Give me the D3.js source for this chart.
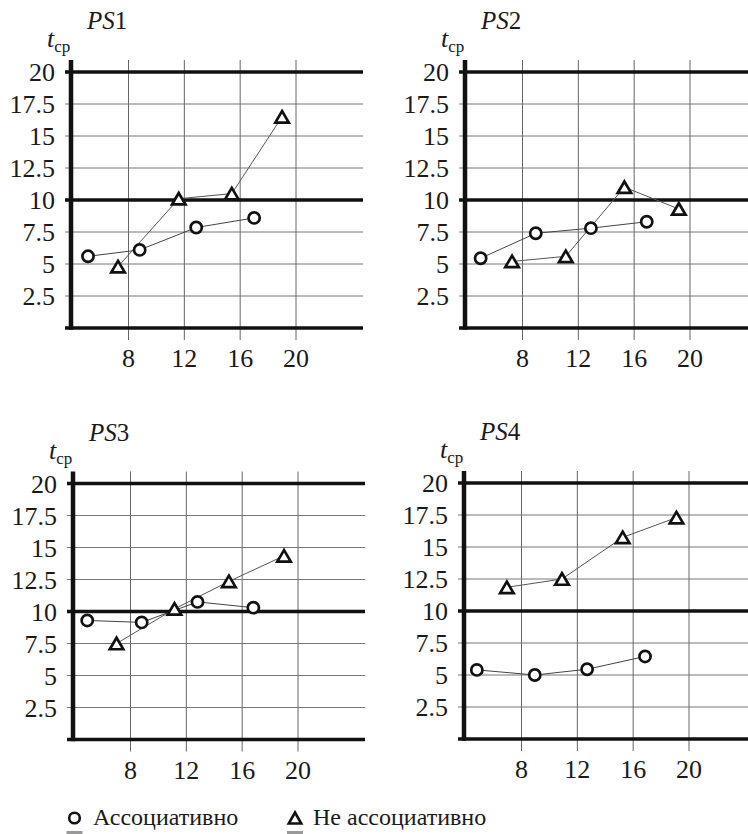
<!DOCTYPE html>
<html>
<head>
<meta charset="utf-8">
<script src="https://cdn.jsdelivr.net/npm/d3@7"></script>
</head>
<body style="margin:0">
<div id="chart"></div>
<script>
// data
const panelNames = ["1", "2", "3", "4"];
const yTicks = [2.5, 5, 7.5, 10, 12.5, 15, 17.5, 20];
const yThick = [0, 10, 20];
const xTicks = [8, 12, 16, 20];

const assocX = [
    [5.1, 8.8, 12.85, 17.0],
    [5.0, 8.95, 12.9, 16.9],
    [4.9, 8.8, 12.8, 16.8],
    [4.8, 8.95, 12.7, 16.85]
];
const assocY = [
    [5.6, 6.1, 7.85, 8.6],
    [5.45, 7.4, 7.8, 8.3],
    [9.3, 9.15, 10.75, 10.3],
    [5.4, 5.0, 5.45, 6.45]
];
const nonAssocX = [
    [7.25, 11.6, 15.4, 19.0],
    [7.25, 11.1, 15.3, 19.2],
    [7.0, 11.15, 15.05, 19.0],
    [6.95, 10.9, 15.25, 19.1]
];
const nonAssocY = [
    [4.8, 10.1, 10.5, 16.5],
    [5.2, 5.6, 11.0, 9.3],
    [7.5, 10.2, 12.35, 14.35],
    [11.85, 12.5, 15.75, 17.3]
];
const legendLabels = ["Ассоциативно", "Не ассоциативно"];

// layout
const W = 748, H = 834;
const panelPos = [[71, 72], [465, 72], [73, 483.5], [464, 483]]; // left axis x, y of 20
const plotW = 292, plotH = 256;

const svg = d3.select("#chart").append("svg")
    .attr("width", W)
    .attr("height", H);

const triPath = function (w, h) {
    return "M0," + (-h / 2) + "L" + (w / 2) + "," + (h / 2) + "L" + (-w / 2) + "," + (h / 2) + "Z";
};

// every text in Times-like serif
const addText = function (sel, size) {
    return sel.append("text")
        .attr("font-family", "Liberation Serif")
        .style("font-family", "'Liberation Serif'")
        .attr("font-size", size)
        .attr("fill", "#1a1a1a");
};

panelNames.forEach((name, p) => {
    var ox = panelPos[p][0], oy = panelPos[p][1];
    var x = d3.scaleLinear().domain([3.88, 24.8]).range([ox, ox + plotW]);
    var y = d3.scaleLinear().domain([0, 20]).range([oy + plotH, oy]);
    var g = svg.append("g");

    //vertical grid
    g.selectAll(".vgrid").data(xTicks).enter()
        .append("line")
        .attr("x1", d => x(d)).attr("x2", d => x(d))
        .attr("y1", oy - 12).attr("y2", y(0) + 12)
        .attr("stroke", "#666").attr("stroke-width", 1);

    //horizontal grid
    g.selectAll(".hgrid").data(yTicks.filter(d => yThick.indexOf(d) < 0)).enter()
        .append("line")
        .attr("x1", ox - 6).attr("x2", ox + plotW)
        .attr("y1", d => y(d)).attr("y2", d => y(d))
        .attr("stroke", "#777").attr("stroke-width", 1);

    g.selectAll(".hthick").data(yThick).enter()
        .append("line")
        .attr("x1", ox - 6).attr("x2", ox + plotW)
        .attr("y1", d => y(d)).attr("y2", d => y(d))
        .attr("stroke", "#111").attr("stroke-width", 3.5);

    //left axis
    g.append("line")
        .attr("x1", ox).attr("x2", ox)
        .attr("y1", oy - 12).attr("y2", y(0) + 1.75)
        .attr("stroke", "#111").attr("stroke-width", 4.5);

    //tick labels
    yTicks.forEach((d) => {
        addText(g, 26)
            .attr("x", ox - 16).attr("y", y(d) + 9)
            .attr("text-anchor", "end")
            .text(d);
    });

    xTicks.forEach((d) => {
        addText(g, 26)
            .attr("x", x(d)).attr("y", y(0) + 39)
            .attr("text-anchor", "middle")
            .text(d);
    });

    //titles
    var title = addText(g, 25)
        .attr("x", ox + 16).attr("y", oy - 43);
    title.append("tspan").attr("font-style", "italic").text("PS");
    title.append("tspan").text(name);

    var tcp = addText(g, 26)
        .attr("x", ox - 24).attr("y", oy - 25);
    tcp.append("tspan").attr("font-style", "italic").text("t");
    tcp.append("tspan").attr("font-size", 17).attr("dy", 5).text("ср");

    //series
    var circPts = assocX[p].map((d, i) => [d, assocY[p][i]]);
    var triPts = nonAssocX[p].map((d, i) => [d, nonAssocY[p][i]]);
    var line = d3.line().x(d => x(d[0])).y(d => y(d[1]));

    g.append("path").datum(triPts)
        .attr("d", line).attr("fill", "none")
        .attr("stroke", "#555").attr("stroke-width", 1);
    g.append("path").datum(circPts)
        .attr("d", line).attr("fill", "none")
        .attr("stroke", "#444").attr("stroke-width", 1);

    g.selectAll(".circ").data(circPts).enter()
        .append("circle")
        .attr("cx", d => x(d[0])).attr("cy", d => y(d[1]))
        .attr("r", 5.6)
        .attr("fill", "#fff").attr("stroke", "#111").attr("stroke-width", 2.7);

    g.selectAll(".tri").data(triPts).enter()
        .append("path")
        .attr("transform", d => "translate(" + x(d[0]) + "," + y(d[1]) + ")")
        .attr("d", triPath(13.5, 11.5))
        .attr("fill", "#fff").attr("stroke", "#111").attr("stroke-width", 2.7)
        .attr("stroke-linejoin", "miter");
});

//legend
var leg = svg.append("g");
leg.append("circle")
    .attr("cx", 74.5).attr("cy", 818).attr("r", 5.3)
    .attr("fill", "#fff").attr("stroke", "#111").attr("stroke-width", 2.6);
leg.append("path")
    .attr("transform", "translate(295,818)")
    .attr("d", triPath(12.5, 11))
    .attr("fill", "#fff").attr("stroke", "#111").attr("stroke-width", 2.6);
legendLabels.forEach((d, i) => {
    addText(leg, 24)
        .attr("x", i ? 313 : 93).attr("y", 825)
        .text(d);
});
// partly visible items under the legend
leg.selectAll(".lbar").data([74.5, 295]).enter()
    .append("rect")
    .attr("x", d => d - 8).attr("y", 831)
    .attr("width", 16).attr("height", 4)
    .attr("fill", "#999");
</script>
</body>
</html>
